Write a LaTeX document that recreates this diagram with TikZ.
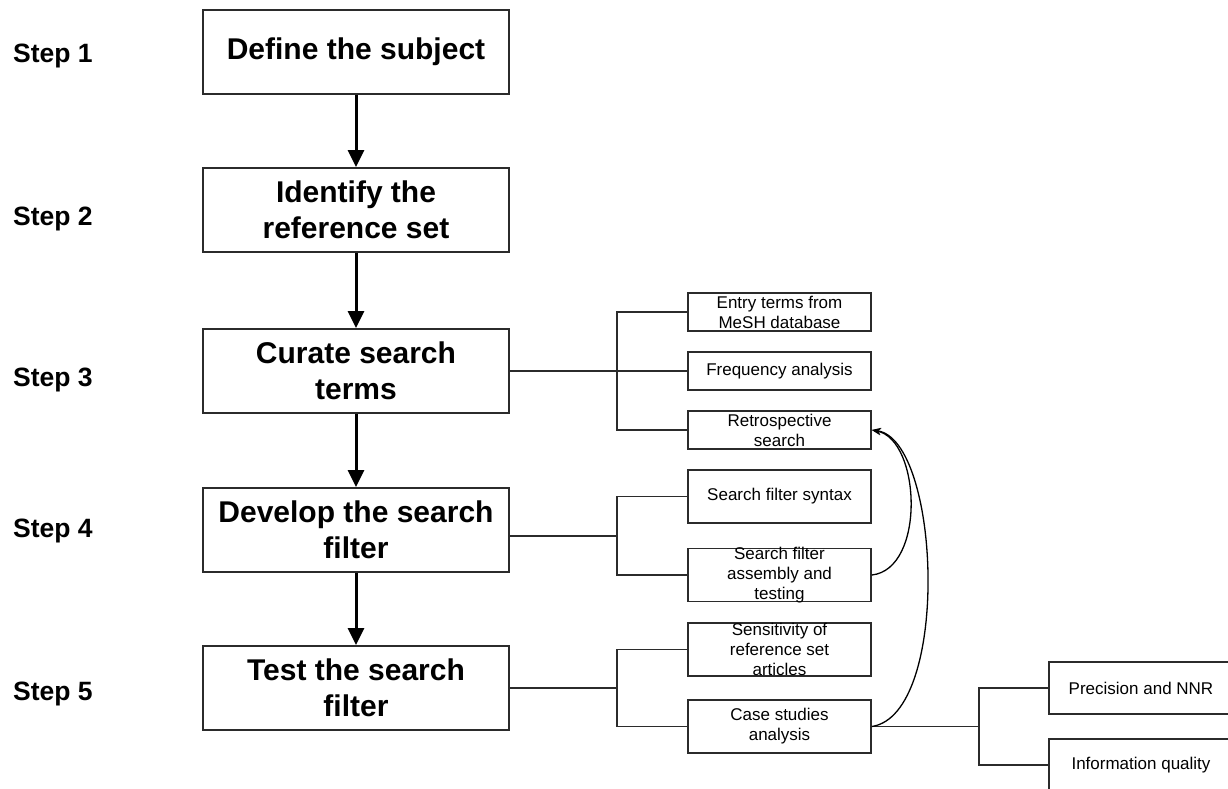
\documentclass[tikz,border=0pt]{standalone}
\usepackage{fontspec}
\setmainfont{Liberation Sans}
\usetikzlibrary{arrows.meta, positioning}
\definecolor{linegray}{HTML}{2B2B2B}
\newcommand{\stepfont}{\fontsize{26.5}{30}\selectfont\bfseries}
\newcommand{\boxfont}{\fontsize{30}{36}\selectfont\bfseries}
\newcommand{\subfont}{\fontsize{17}{20}\selectfont}

\begin{document}
\begin{tikzpicture}[x=1pt, y=-1pt,
		mainbox/.style={draw=linegray, line width=1.8pt, minimum width=306pt, minimum height=84pt, align=center, font=\boxfont, inner sep=2pt},
		subbox/.style={draw=linegray, line width=1.7pt, minimum width=183pt, inner sep=0pt},
		subtext/.style={align=center, font=\subfont, inner sep=0pt},
		steplabel/.style={anchor=base west, font=\stepfont, inner sep=0pt},
		flow/.style={-{Triangle[length=17pt,width=16pt]}, line width=3pt},
		link/.style={draw=linegray, line width=1.8pt},
		loopback/.style={-{Stealth[length=9pt,width=7pt]}, line width=1.3pt}]
		\useasboundingbox (0,0) rectangle (1228,789);

		% steps
		\node[steplabel] (step1) at (13,63) {Step 1};
		\node[steplabel] (step2) at (13,225) {Step 2};
		\node[steplabel] (step3) at (13,386) {Step 3};
		\node[steplabel] (step4) at (13,537) {Step 4};
		\node[steplabel] (step5) at (13,700) {Step 5};

		% main column
		\node[mainbox] (define) at (356,52) {Define the subject};
		\node[mainbox] (identify) at (356,210) {Identify the\\reference set};
		\node[mainbox] (curate) at (356,371) {Curate search\\terms};
		\node[mainbox] (develop) at (356,530) {Develop the search\\filter};
		\node[mainbox] (test) at (356,688) {Test the search\\filter};
		\foreach \a/\b in {define/identify, identify/curate, curate/develop, develop/test}
			\draw[flow] (\a) -- (\b);

		% sub tasks
		\node[subbox, minimum height=38pt, label={[subtext]center:{Entry terms from\\MeSH database}}] (entry) at (779.5,312) {};
		\node[subbox, minimum height=38pt, label={[subtext]center:{Frequency analysis}}] (freq) at (779.5,371) {};
		\node[subbox, minimum height=38pt, label={[subtext]center:{Retrospective\\search}}] (retro) at (779.5,430) {};
		\node[subbox, minimum height=53pt, label={[subtext]center:{Search filter syntax}}] (syntax) at (779.5,496.5) {};
		\node[subbox, minimum height=53pt, label={[subtext]center:{Search filter\\assembly and\\testing}}] (assembly) at (779.5,575) {};
		\node[subbox, minimum height=53pt, label={[subtext]center:{Sensitivity of\\reference set\\articles}}] (sensitivity) at (779.5,649.5) {};
		\node[subbox, minimum height=53pt, label={[subtext]center:{Case studies\\analysis}}] (cases) at (779.5,726.5) {};
		\node[subbox, minimum width=184pt, minimum height=52pt, label={[subtext]center:{Precision and NNR}}] (precision) at (1141,688) {};
		\node[subbox, minimum width=184pt, minimum height=52pt, label={[subtext]center:{Information quality}}] (quality) at (1141,765) {};

		% brackets
		\coordinate (j3) at (617,371);
		\coordinate (j4) at (617,536);
		\coordinate (j5) at (617,688);
		\coordinate (j6) at (979,726.5);
		\draw[link] (curate.east |- j3) -- (j3);
		\draw[link] (entry.west) -| (j3) |- (retro.west);
		\draw[link] (freq.west) -- (freq.west -| j3);
		\draw[link] (develop.east |- j4) -- (j4);
		\draw[link] (syntax.west) -| (j4) |- (assembly.west);
		\draw[link] (test.east |- j5) -- (j5);
		\draw[link] (sensitivity.west) -| (j5) |- (cases.west);
		\draw[link] (cases.east) -- (j6);
		\draw[link] (precision.west) -| (j6) |- (quality.west);

		% feedback
		\draw[loopback] (assembly.east) .. controls +(54,-6) and +(49,10) .. (retro.east);
		\draw[loopback] (cases.east) .. controls +(79,-12) and +(69,10) .. (retro.east);
	\end{tikzpicture}
\end{document}
